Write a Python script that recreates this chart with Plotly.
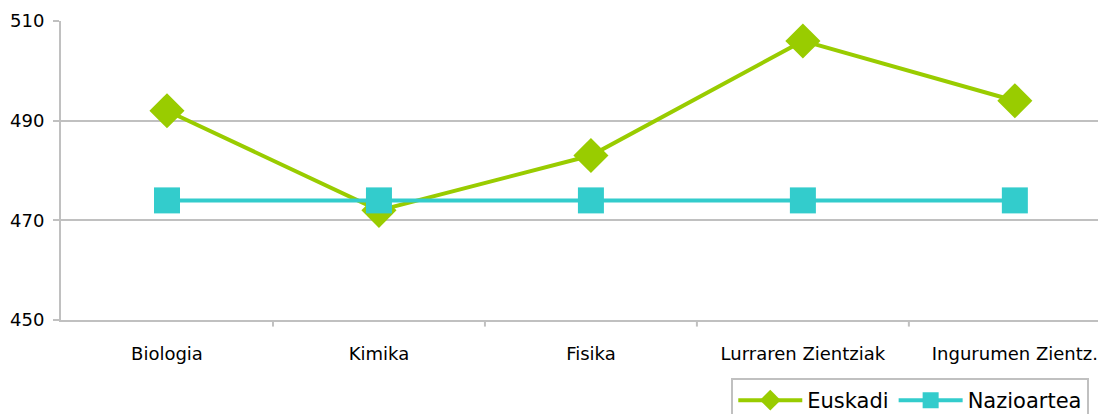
import plotly.graph_objects as go

categories = ["Biologia", "Kimika", "Fisika", "Lurraren Zientziak", "Ingurumen Zientz."]
euskadi = [492, 472, 483, 506, 494]
nazioartea = [474, 474, 474, 474, 474]
y_ticks = [450, 470, 490, 510]

FONT = "DejaVu Sans"
fig = go.Figure()
fig.add_trace(go.Scatter(
    x=list(range(len(categories))), y=euskadi, name="Euskadi", mode="lines+markers",
    line=dict(color="#99cc00", width=4),
    marker=dict(symbol="diamond", size=27, color="#99cc00"),
))
fig.add_trace(go.Scatter(
    x=list(range(len(categories))), y=nazioartea, name="Nazioartea", mode="lines+markers",
    line=dict(color="#33cccc", width=4),
    marker=dict(symbol="square", size=26, color="#33cccc"),
))

fig.update_layout(
    width=1098, height=406,
    margin=dict(l=53, r=0, t=13, b=94, autoexpand=False),
    plot_bgcolor="white", paper_bgcolor="white",
    font=dict(family=FONT, size=18, color="#000000"),
    showlegend=True,
    legend=dict(
        orientation="h", x=0.984, xanchor="right", y=-0.194, yanchor="top",
        bordercolor="#c0c0c0", borderwidth=2, font=dict(size=21, family=FONT),
        itemwidth=64, bgcolor="white", tracegroupgap=0,
    ),
)
fig.update_xaxes(
    tickmode="array", tickvals=list(range(len(categories))), ticktext=categories,
    range=[-0.5, 4.43], showgrid=False, zeroline=False, automargin=False,
    showline=True, linecolor="#c0c0c0", linewidth=2,
    ticks="", ticklabelstandoff=16, ticklabeloverflow="allow",
)
for b in [0.5, 1.5, 2.5, 3.5]:
    fig.add_shape(type="line", xref="x", yref="paper", x0=b, x1=b, y0=0, y1=-0.022,
                  line=dict(color="#c0c0c0", width=2))
fig.update_yaxes(
    range=[450, 510], tickvals=y_ticks, showgrid=True, gridcolor="#c0c0c0", gridwidth=2,
    zeroline=False, showline=True, linecolor="#c0c0c0", linewidth=2, automargin=False,
    ticks="outside", ticklen=6, tickcolor="#c0c0c0", tickwidth=2,
    tickfont=dict(size=18), ticklabelstandoff=5, ticklabeloverflow="allow",
)
fig.write_html("out.html")
